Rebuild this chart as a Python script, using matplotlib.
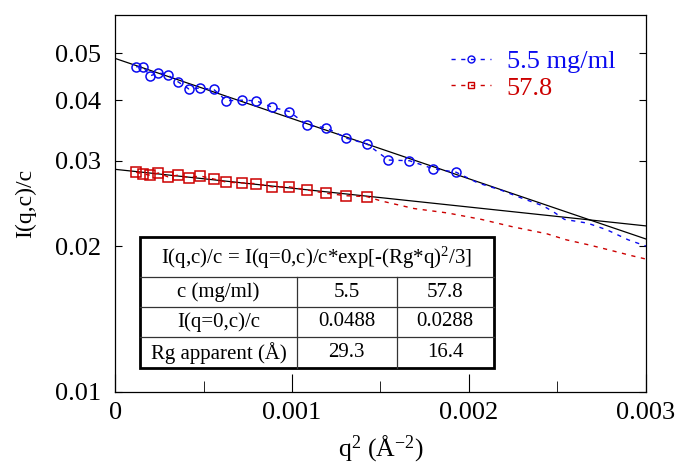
import matplotlib
matplotlib.use("Agg")
import matplotlib.pyplot as plt
import numpy as np

plt.rcParams['font.family'] = ['Liberation Serif', 'DejaVu Serif']
plt.rcParams['mathtext.fontset'] = 'custom'
plt.rcParams['mathtext.rm'] = 'Liberation Serif'
plt.rcParams['mathtext.it'] = 'Liberation Serif:italic'

# q^2 (A^-2) of the points carrying markers
q2 = [1.19e-4, 1.57e-4, 1.98e-4, 2.45e-4, 2.98e-4, 3.54e-4, 4.17e-4, 4.82e-4,
      5.58e-4, 6.29e-4, 7.16e-4, 7.97e-4, 8.88e-4, 9.85e-4, 1.087e-3, 1.193e-3,
      1.306e-3, 1.423e-3, 1.545e-3, 1.664e-3, 1.796e-3, 1.928e-3]
# 5.5 mg/ml
i_low = [0.0469, 0.0469, 0.0449, 0.0456, 0.0451, 0.0437, 0.0422, 0.0424,
         0.0421, 0.0399, 0.0400, 0.0399, 0.0387, 0.0379, 0.0355, 0.0351,
         0.0334, 0.0325, 0.0301, 0.0300, 0.0289, 0.0284]
# 57.8 mg/ml (first 18 q values)
i_high = [0.0284, 0.0282, 0.0280, 0.0283, 0.0278, 0.0280, 0.0277, 0.0279,
          0.0275, 0.0271, 0.0270, 0.0269, 0.0265, 0.0265, 0.0261, 0.0257,
          0.0254, 0.0253]

# rest of the curves (no markers)
q2_tail_low = [2.05e-3, 2.18e-3, 2.30e-3, 2.42e-3, 2.48e-3, 2.54e-3, 2.67e-3,
               2.78e-3, 2.90e-3, 3.0e-3]
i_tail_low = [0.0270, 0.0261, 0.0251, 0.0242, 0.0235, 0.0227, 0.0223,
              0.0216, 0.0206, 0.0200]
q2_tail_high = [1.50e-3, 1.69e-3, 1.88e-3, 2.07e-3, 2.25e-3, 2.44e-3, 2.55e-3,
                2.68e-3, 2.80e-3, 2.92e-3, 3.0e-3]
i_tail_high = [0.0248, 0.0239, 0.0234, 0.0227, 0.0219, 0.0212, 0.0206,
               0.0201, 0.0196, 0.0191, 0.0188]

# Guinier fit parameters
conc = ['5.5', '57.8']
i0 = [0.0488, 0.0288]
rg = [29.3, 16.4]

fig = plt.figure(figsize=(6.77, 4.67), dpi=100)
ax = fig.add_axes([0.170, 0.161, 0.784, 0.807])

blue = '#0a0aef'
red = '#cc0000'

# fits
qq = np.linspace(0, 0.003, 200)
for a, r in zip(i0, rg):
    ax.plot(qq, a * np.exp(-(r ** 2) * qq / 3), color='black', lw=0.9)

n_hi = len(i_high)
ax.plot(q2 + q2_tail_low, i_low + i_tail_low, color=blue, lw=1,
        ls=(0, (3, 4)))
ax.plot(q2[:n_hi] + q2_tail_high, i_high + i_tail_high, color=red, lw=1,
        ls=(0, (3, 4)))
ax.plot(q2, i_low, ls='none', marker='o', ms=6.5, mfc='none', mec=blue,
        mew=1.1)
ax.plot(q2[:n_hi], i_high, ls='none', marker='s', ms=7, mfc='none',
        mec=red, mew=1.1)

# legend handles
h1, = ax.plot([], [], color=blue, lw=1, ls=(0, (3, 4)), marker='o', ms=5,
              mfc='none', mec=blue, label='5.5 mg/ml')
h2, = ax.plot([], [], color=red, lw=1, ls=(0, (3, 4)), marker='s', ms=5,
              mfc='none', mec=red, label='57.8')
leg = ax.legend(handles=[h1, h2], loc='upper right', frameon=False,
                fontsize=19, handlelength=1.5, handletextpad=0.6,
                labelspacing=0.12, borderaxespad=0.2,
                bbox_to_anchor=(0.972, 0.95))
for t, c in zip(leg.get_texts(), [blue, red]):
    t.set_color(c)

ax.set_yscale('log')
ax.set_xlim(0, 0.003)
ax.set_ylim(0.01, 0.06)
ax.set_yticks([0.01, 0.02, 0.03, 0.04, 0.05])
ax.set_yticklabels(['0.01', '0.02', '0.03', '0.04', '0.05'])
ax.yaxis.set_minor_locator(matplotlib.ticker.NullLocator())
ax.set_xticks([0, 0.001, 0.002, 0.003])
ax.set_xticklabels(['0', '0.001', '0.002', '0.003'])
ax.set_xticks([0.0005, 0.0015, 0.0025], minor=True)
ax.tick_params(axis='y', which='both', direction='in', right=True,
               length=5, labelsize=19, pad=10)
ax.tick_params(axis='x', which='major', direction='in', length=13,
               labelsize=19, pad=7)
ax.tick_params(axis='x', which='minor', direction='in', length=8)
for s in ax.spines.values():
    s.set_linewidth(0.9)

ax.set_ylabel('I(q,c)/c', fontsize=17, labelpad=14)
ax.set_xlabel(r'q$^{2}$ (Å$^{\mathrm{-2}}$)', fontsize=18.5, labelpad=7)

# summary table
x0, x1 = 0.047, 0.713
y0, y1 = 0.062, 0.4115
rows = [0.3037, 0.2256, 0.146]
cols = [0.3424, 0.5308]
ax.add_patch(plt.Rectangle((x0, y0), x1 - x0, y1 - y0, transform=ax.transAxes,
                           facecolor='white', edgecolor='black', lw=2,
                           zorder=5))
for yr in rows:
    ax.plot([x0, x1], [yr, yr], transform=ax.transAxes, color='#333333',
            lw=0.9, zorder=6)
for xc in cols:
    ax.plot([xc, xc], [y0, rows[0]], transform=ax.transAxes,
            color='#333333', lw=0.9, zorder=6)

tkw = dict(transform=ax.transAxes, ha='center', va='center', fontsize=15,
           zorder=7)
ax.text((x0 + x1) / 2, (y1 + rows[0]) / 2 - 0.003,
        r'I(q,c)/c = I(q=0,c)/c*exp[-(Rg*q)$^{2}$/3]', **tkw)
cells = [['c (mg/ml)'] + conc,
         ['I(q=0,c)/c'] + ['%.4f' % v for v in i0],
         ['Rg apparent (Å)'] + ['%.1f' % v for v in rg]]
edges = [rows[0], rows[1], rows[2], y0]
centers = [(x0 + cols[0]) / 2, (cols[0] + cols[1]) / 2, (cols[1] + x1) / 2]
for k, row in enumerate(cells):
    yc = (edges[k] + edges[k + 1]) / 2
    for xc, txt in zip(centers, row):
        ax.text(xc, yc, txt, **tkw)

fig.savefig('out.png', dpi=100)
